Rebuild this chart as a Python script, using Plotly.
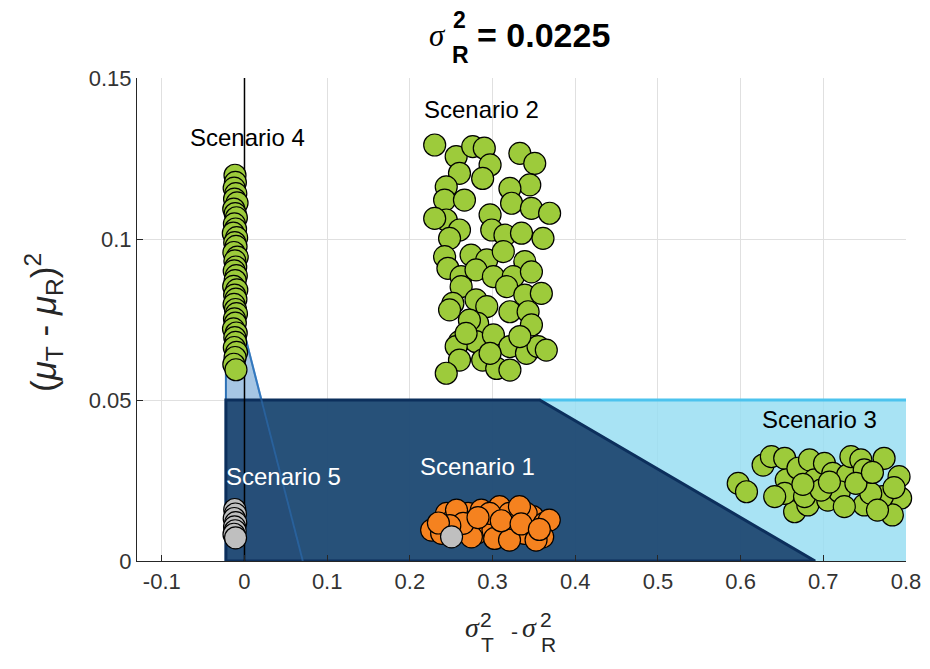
import plotly.graph_objects as go

# ---------------- data ----------------
sigma_R2 = 0.0225
x_ticks = [-0.1, 0, 0.1, 0.2, 0.3, 0.4, 0.5, 0.6, 0.7, 0.8]
x_tick_labels = ["-0.1", "0", "0.1", "0.2", "0.3", "0.4", "0.5", "0.6", "0.7", "0.8"]
y_ticks = [0, 0.05, 0.1, 0.15]
y_tick_labels = ["0", "0.05", "0.1", "0.15"]

# regions
light_x = [-0.0225, -0.0225, 0.8, 0.8, -0.0225]
light_y = [0, 0.05, 0.05, 0, 0]
light_top_x = [0.357, 0.8]
light_top_y = [0.05, 0.05]
dark_x = [-0.0225, -0.0225, 0.357, 0.69, -0.0225]
dark_y = [0, 0.05, 0.05, 0, 0]
wedge_x = [-0.0225, -0.0225, 0.0705, -0.0225]
wedge_y = [0, 0.093, 0, 0]
wedge_edge_x = [-0.0225, 0.0705]
wedge_edge_y = [0.093, 0]
zero_x = [0, 0]
zero_y = [0, 0.15]

# Scenario 1 (orange)
s1_x = [0.2263, 0.2444, 0.2523, 0.2704, 0.2664, 0.2864, 0.2925, 0.2804, 0.3005, 0.3085,
        0.3205, 0.3165, 0.3286, 0.3385, 0.3485, 0.3406, 0.3626, 0.3686, 0.3606, 0.3325,
        0.2384, 0.2744, 0.3025, 0.3205, 0.3526, 0.2564, 0.2644, 0.2965, 0.2483, 0.3105,
        0.3345, 0.2824, 0.3566, 0.2345]
s1_y = [0.0096, 0.0148, 0.0127, 0.0148, 0.0096, 0.0158, 0.0127, 0.0086, 0.0096, 0.0169,
        0.0148, 0.0107, 0.0086, 0.0086, 0.0138, 0.0148, 0.0117, 0.0127, 0.0075, 0.0169,
        0.0086, 0.0075, 0.0070, 0.0065, 0.0065, 0.0158, 0.0117, 0.0148, 0.0110, 0.0125,
        0.0115, 0.0135, 0.0098, 0.0118]

# Scenario 2 (green)
s2_x = [0.230, 0.256, 0.276, 0.290, 0.333, 0.297, 0.351, 0.260, 0.288, 0.345,
        0.321, 0.244, 0.242, 0.266, 0.297, 0.323, 0.347, 0.369, 0.244, 0.230,
        0.260, 0.299, 0.315, 0.335, 0.361, 0.248, 0.242, 0.274, 0.293, 0.313,
        0.339, 0.246, 0.262, 0.280, 0.301, 0.325, 0.347, 0.317, 0.339, 0.359,
        0.262, 0.252, 0.248, 0.280, 0.293, 0.321, 0.343, 0.347, 0.282, 0.260,
        0.280, 0.301, 0.321, 0.341, 0.355, 0.365, 0.256, 0.260, 0.244, 0.288,
        0.305, 0.321, 0.297, 0.272, 0.333, 0.268]
s2_y = [0.1292, 0.1256, 0.1287, 0.1282, 0.1266, 0.1230, 0.1235, 0.1204, 0.1188, 0.1168,
        0.1157, 0.1162, 0.1121, 0.1121, 0.1075, 0.1111, 0.1095, 0.1080, 0.1059, 0.1064,
        0.1028, 0.1028, 0.1012, 0.1018, 0.1002, 0.1002, 0.0945, 0.0950, 0.0935, 0.0961,
        0.0930, 0.0909, 0.0883, 0.0904, 0.0883, 0.0883, 0.0898, 0.0852, 0.0826, 0.0831,
        0.0852, 0.0800, 0.0780, 0.0811, 0.0790, 0.0774, 0.0774, 0.0733, 0.0738, 0.0681,
        0.0681, 0.0702, 0.0666, 0.0645, 0.0666, 0.0655, 0.0666, 0.0624, 0.0583, 0.0624,
        0.0598, 0.0593, 0.0645, 0.0748, 0.0697, 0.0707]

# Scenario 3 (green)
s3_x = [0.5971, 0.6071, 0.6272, 0.6372, 0.6533, 0.6552, 0.6693, 0.6833, 0.6893, 0.6653,
        0.6813, 0.7014, 0.7114, 0.7294, 0.7153, 0.7054, 0.7334, 0.7454, 0.7495, 0.7194,
        0.7495, 0.7735, 0.7916, 0.7935, 0.7835, 0.7715, 0.7574, 0.6533, 0.6773, 0.6973,
        0.7254, 0.7655, 0.6412, 0.7394, 0.6753, 0.7074, 0.7594, 0.7855]
s3_y = [0.0241, 0.0215, 0.0298, 0.0324, 0.0319, 0.0252, 0.0288, 0.0314, 0.0252, 0.0153,
        0.0174, 0.0303, 0.0272, 0.0267, 0.0195, 0.0189, 0.0324, 0.0314, 0.0283, 0.0215,
        0.0174, 0.0319, 0.0262, 0.0195, 0.0143, 0.0200, 0.0210, 0.0210, 0.0200, 0.0220,
        0.0169, 0.0158, 0.0200, 0.0241, 0.0238, 0.0245, 0.0275, 0.0228]

# Scenario 4 (green)
s4_x = [-0.0115, -0.0110, -0.0125, -0.0105, -0.0120, -0.0090, -0.0130, -0.0112, -0.0098, -0.0122,
        -0.0108, -0.0135, -0.0095, -0.0118, -0.0102, -0.0128, -0.0088, -0.0116, -0.0106, -0.0124,
        -0.0099, -0.0113, -0.0131, -0.0093, -0.0119, -0.0104, -0.0126, -0.0109, -0.0097, -0.0121,
        -0.0111, -0.0133, -0.0100, -0.0117, -0.0107, -0.0123, -0.0096, -0.0114, -0.0129, -0.0103]
s4_y = [0.1198, 0.1176, 0.1158, 0.1141, 0.1124, 0.1112, 0.1093, 0.1079, 0.1066, 0.1047,
        0.1031, 0.1018, 0.1004, 0.0989, 0.0977, 0.0958, 0.0944, 0.0932, 0.0913, 0.0901,
        0.0886, 0.0871, 0.0853, 0.0842, 0.0826, 0.0813, 0.0797, 0.0781, 0.0768, 0.0752,
        0.0739, 0.0721, 0.0708, 0.0694, 0.0679, 0.0663, 0.0648, 0.0632, 0.0611, 0.0594]

# Scenario 5 (grey) + one grey point inside scenario 1
s5_x = [-0.0118, -0.0110, -0.0124, -0.0106, -0.0120, -0.0113, -0.0127, -0.0108, 0.2504]
s5_y = [0.0160, 0.0146, 0.0132, 0.0119, 0.0106, 0.0094, 0.0083, 0.0072, 0.0075]

# ---------------- figure ----------------
GREEN = "#9DCB3B"
ORANGE = "#F5821F"
GREY = "#BFBFBF"
TXT = "#262626"
SANS = "Liberation Sans, Arial, sans-serif"
SERIF = "Liberation Serif, Times New Roman, serif"

fig = go.Figure()

fig.add_trace(go.Scatter(x=light_x, y=light_y, mode="lines", fill="toself",
                         fillcolor="rgba(149,221,242,0.82)", line=dict(width=0),
                         hoverinfo="skip", showlegend=False))
fig.add_trace(go.Scatter(x=light_top_x, y=light_top_y, mode="lines",
                         line=dict(color="#4CC3EE", width=3), hoverinfo="skip", showlegend=False))
fig.add_trace(go.Scatter(x=wedge_x, y=wedge_y, mode="lines", fill="toself",
                         fillcolor="#A6C6E4", line=dict(color="#2C70B5", width=2),
                         hoverinfo="skip", showlegend=False))
fig.add_trace(go.Scatter(x=dark_x, y=dark_y, mode="lines", fill="toself",
                         fillcolor="rgba(24,64,108,0.9)", line=dict(color="#0C2F5C", width=3),
                         hoverinfo="skip", showlegend=False))
fig.add_trace(go.Scatter(x=wedge_edge_x, y=wedge_edge_y, mode="lines",
                         line=dict(color="rgba(60,130,205,0.45)", width=2),
                         hoverinfo="skip", showlegend=False))
fig.add_trace(go.Scatter(x=zero_x, y=zero_y, mode="lines",
                         line=dict(color="#000000", width=1.5), hoverinfo="skip", showlegend=False))

mk = lambda c: dict(size=22, color=c, line=dict(color="#000000", width=1.2))
for xs, ys, c in [(s4_x, s4_y, GREEN), (s2_x, s2_y, GREEN), (s3_x, s3_y, GREEN),
                  (s1_x, s1_y, ORANGE), (s5_x, s5_y, GREY)]:
    fig.add_trace(go.Scatter(x=xs, y=ys, mode="markers", marker=mk(c),
                             cliponaxis=False, showlegend=False))

L, R, T, B = 137, 906, 78, 561
W, H = R - L, B - T


def P(px, py):
    return dict(x=(px - L) / W, y=(B - py) / H, xref="paper", yref="paper",
                showarrow=False, xanchor="center", yanchor="middle")


ann = []
# title  sigma_R^2 = 0.0225
ann.append(dict(**P(437, 35), text="<i>σ</i>", font=dict(family=SERIF, size=31, color="#000")))
ann.append(dict(**P(459, 20), text="<b>2</b>", font=dict(family=SANS, size=23, color="#000")))
ann.append(dict(**P(460, 55), text="<b>R</b>", font=dict(family=SANS, size=23, color="#000")))
t = dict(**P(475, 35), text="<b>= 0.0225</b>", font=dict(family=SANS, size=34, color="#000"))
t["xanchor"] = "left"
ann.append(t)
# x label
ann.append(dict(**P(472, 627), text="<i>σ</i>", font=dict(family=SERIF, size=28, color=TXT)))
ann.append(dict(**P(486, 619), text="2", font=dict(family=SANS, size=21, color=TXT)))
ann.append(dict(**P(487, 644), text="T", font=dict(family=SANS, size=21, color=TXT)))
ann.append(dict(**P(514, 631), text="-", font=dict(family=SANS, size=21, color=TXT)))
ann.append(dict(**P(529, 627), text="<i>σ</i>", font=dict(family=SERIF, size=28, color=TXT)))
ann.append(dict(**P(546, 619), text="2", font=dict(family=SANS, size=21, color=TXT)))
ann.append(dict(**P(548, 644), text="R", font=dict(family=SANS, size=21, color=TXT)))
# y label
ann.append(dict(**P(43, 323), textangle=-90,
                text="(<i>μ</i><sub>T</sub>\u00a0-\u00a0<i>μ</i><sub>R</sub>)<sup>2</sup>",
                font=dict(family=SANS, size=35, color=TXT)))

# scenario labels
labels = [("Scenario 4", 0.0042, 0.1316, "#000000"),
          ("Scenario 2", 0.2868, 0.1401, "#000000"),
          ("Scenario 3", 0.6957, 0.0438, "#000000"),
          ("Scenario 1", 0.2814, 0.0295, "#FFFFFF"),
          ("Scenario 5", 0.0469, 0.0262, "#FFFFFF")]
for txt, x, y, c in labels:
    ann.append(dict(x=x, y=y, xref="x", yref="y", text=txt, showarrow=False,
                    font=dict(family=SANS, size=24, color=c)))

axis_common = dict(showgrid=True, gridcolor="#E0E0E0", gridwidth=1, zeroline=False,
                   showline=True, linecolor=TXT, linewidth=1.2, mirror=False,
                   ticks="inside", ticklen=6, tickcolor=TXT, tickwidth=1.2, automargin=False,
                   tickfont=dict(family=SANS, size=22, color="#333333"), layer="above traces")

fig.update_layout(
    width=930, height=669,
    margin=dict(l=L, r=930 - R, t=T, b=669 - B, autoexpand=False),
    paper_bgcolor="white", plot_bgcolor="white",
    xaxis=dict(range=[-0.13, 0.8], tickvals=x_ticks, ticktext=x_tick_labels, **axis_common),
    yaxis=dict(range=[0, 0.15], tickvals=y_ticks, ticktext=y_tick_labels, **axis_common),
    annotations=ann,
    showlegend=False,
)

fig.write_html("out.html")
